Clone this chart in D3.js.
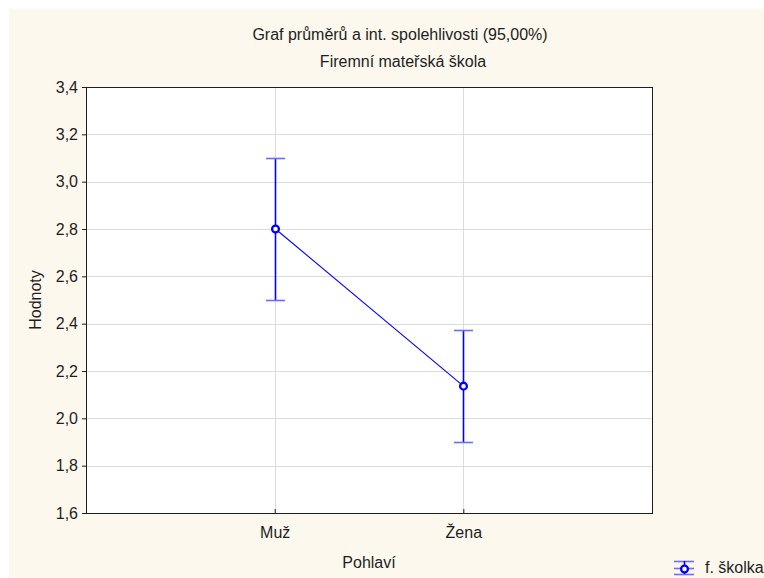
<!DOCTYPE html>
<html>
<head>
<meta charset="utf-8">
<script src="https://cdn.jsdelivr.net/npm/d3@7/dist/d3.min.js"></script>
<style>
  html, body { margin: 0; padding: 0; background: #ffffff; }
  svg { display: block; font-family: "Liberation Sans", Arial, sans-serif; }
</style>
</head>
<body>
<svg id="chart" width="764" height="578"></svg>
<script>
// Group means with 95% confidence limits
const categories = ["Muž", "Žena"];
const means = [2.8, 2.136];
const lower = [2.5, 1.9];
const upper = [3.1, 2.373];
const yTicks = [1.6, 1.8, 2.0, 2.2, 2.4, 2.6, 2.8, 3.0, 3.2, 3.4];
const seriesName = "f. školka";

const svg = d3.select("#chart");
const W = 764, H = 578;
const plot = { left: 86, top: 87, right: 652, bottom: 513 };
const FS = 16;
const ink = "#1e1e1e";

// page background
svg.append("rect").attr("x", 9).attr("y", 9).attr("width", W - 9).attr("height", H - 9)
  .attr("fill", "#fdf8ee");

const x = d3.scalePoint().domain(categories).range([plot.left, plot.right]).padding(1);
const y = d3.scaleLinear().domain([1.6, 3.4]).range([plot.bottom, plot.top]);
const cx = c => Math.round(x(c)) + 0.5;

svg.append("rect").attr("x", plot.left).attr("y", plot.top)
  .attr("width", plot.right - plot.left).attr("height", plot.bottom - plot.top)
  .attr("fill", "#ffffff");

// grid
svg.append("g").selectAll("line").data(yTicks.slice(1, -1)).join("line")
  .attr("x1", plot.left).attr("x2", plot.right)
  .attr("y1", d => Math.round(y(d)) + 0.5).attr("y2", d => Math.round(y(d)) + 0.5)
  .attr("stroke", "#dcdcdc").attr("stroke-width", 1);
svg.append("g").selectAll("line").data(categories).join("line")
  .attr("x1", cx).attr("x2", cx)
  .attr("y1", plot.top).attr("y2", plot.bottom)
  .attr("stroke", "#dcdcdc").attr("stroke-width", 1);

// axes
const yAxis = svg.append("g").attr("transform", `translate(${plot.left},0)`)
  .call(d3.axisLeft(y).tickValues(yTicks).tickSize(4).tickPadding(4)
    .tickFormat(d => d3.format(".1f")(d).replace(".", ",")));
yAxis.select(".domain").remove();
yAxis.selectAll("line").attr("stroke", ink);
yAxis.selectAll("text").attr("font-size", FS).attr("fill", ink)
  .attr("font-family", "Liberation Sans, Arial, sans-serif");

const xAxis = svg.append("g").attr("transform", `translate(0,${plot.bottom})`)
  .call(d3.axisBottom(x).tickSize(4).tickPadding(10));
xAxis.select(".domain").remove();
xAxis.selectAll("line").attr("stroke", ink).attr("y2", -4);
xAxis.selectAll("text").attr("font-size", FS).attr("fill", ink)
  .attr("font-family", "Liberation Sans, Arial, sans-serif");

svg.append("rect").attr("x", plot.left + 0.5).attr("y", plot.top + 0.5)
  .attr("width", plot.right - plot.left).attr("height", plot.bottom - plot.top)
  .attr("fill", "none").attr("stroke", ink).attr("stroke-width", 1);

// titles
svg.append("text").attr("x", 400).attr("y", 40).attr("text-anchor", "middle")
  .attr("font-size", FS).attr("fill", ink).text("Graf průměrů a int. spolehlivosti (95,00%)");
svg.append("text").attr("x", 403).attr("y", 67).attr("text-anchor", "middle")
  .attr("font-size", FS).attr("fill", ink).text("Firemní mateřská škola");
svg.append("text").attr("transform", `translate(41,${(plot.top + plot.bottom) / 2}) rotate(-90)`)
  .attr("text-anchor", "middle").attr("font-size", FS).attr("fill", ink).text("Hodnoty");
svg.append("text").attr("x", 369).attr("y", 568).attr("text-anchor", "middle")
  .attr("font-size", FS).attr("fill", ink).text("Pohlaví");

// error bars
const blue = "#0000ff";
const capBlue = "#6b6bff";
const idx = d3.range(categories.length);
const eb = svg.append("g");
eb.append("g").selectAll("line").data(idx).join("line")
  .attr("x1", i => cx(categories[i])).attr("x2", i => cx(categories[i]))
  .attr("y1", i => y(lower[i])).attr("y2", i => y(upper[i]))
  .style("stroke", blue).style("stroke-width", 1.6);
[lower, upper].forEach(arr => {
  eb.append("g").selectAll("line").data(idx).join("line")
    .attr("x1", i => cx(categories[i]) - 9.5).attr("x2", i => cx(categories[i]) + 9.5)
    .attr("y1", i => Math.round(y(arr[i])) + 0.5).attr("y2", i => Math.round(y(arr[i])) + 0.5)
    .style("stroke", capBlue).style("stroke-width", 1.6);
});

// mean line and markers
svg.append("path")
  .attr("d", d3.line().x((d, i) => cx(categories[i])).y(d => y(d))(means))
  .attr("fill", "none").attr("stroke", blue).attr("stroke-width", 1.1);
svg.append("g").selectAll("circle").data(idx).join("circle")
  .attr("cx", i => cx(categories[i])).attr("cy", i => y(means[i]))
  .attr("r", 3.4).attr("fill", "#ffffff").attr("stroke", blue).attr("stroke-width", 2.3);

// legend
const lg = svg.append("g").attr("transform", "translate(674,561)");
lg.append("line").attr("x1", 0).attr("x2", 20).attr("y1", 0.5).attr("y2", 0.5).attr("stroke", capBlue).attr("stroke-width", 1.6);
lg.append("line").attr("x1", 0).attr("x2", 20).attr("y1", 13.5).attr("y2", 13.5).attr("stroke", capBlue).attr("stroke-width", 1.6);
lg.append("line").attr("x1", 0).attr("x2", 20).attr("y1", 7.5).attr("y2", 7.5).attr("stroke", capBlue).attr("stroke-width", 1.6);
lg.append("line").attr("x1", 10.5).attr("x2", 10.5).attr("y1", 0).attr("y2", 13).attr("stroke", blue).attr("stroke-width", 1.6);
lg.append("circle").attr("cx", 10.5).attr("cy", 8).attr("r", 3.4).attr("fill", "#fff").attr("stroke", blue).attr("stroke-width", 2.3);
lg.append("text").attr("x", 31).attr("y", 12).attr("font-size", FS).attr("fill", ink).text(seriesName);
</script>
</body>
</html>
